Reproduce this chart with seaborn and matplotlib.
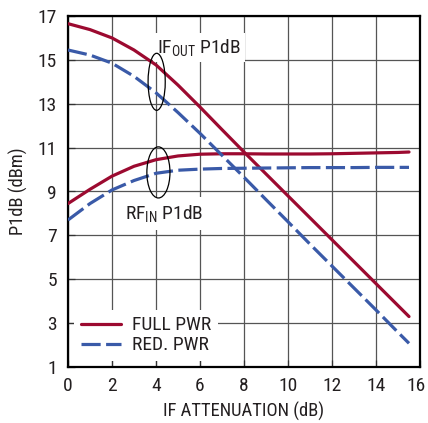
import matplotlib
matplotlib.use("Agg")
import matplotlib.pyplot as plt
import matplotlib.transforms as mtransforms
from matplotlib import font_manager
from matplotlib.font_manager import FontProperties
from matplotlib.patches import Ellipse
import seaborn as sns
import pandas as pd

atten = [0, 1, 2, 3, 4, 5, 6, 7, 8, 9, 10, 11, 12, 13, 14, 15, 15.5]
ifout_full = [16.65, 16.38, 16.0, 15.45, 14.77, 13.85, 12.85, 11.82, 10.8, 9.8, 8.8, 7.8, 6.8, 5.8, 4.8, 3.8, 3.3]
ifout_red = [15.45, 15.22, 14.85, 14.25, 13.5, 12.6, 11.65, 10.65, 9.65, 8.63, 7.62, 6.6, 5.6, 4.6, 3.6, 2.58, 2.08]
rfin_full = [8.45, 9.1, 9.7, 10.15, 10.45, 10.62, 10.7, 10.72, 10.72, 10.71, 10.71, 10.71, 10.72, 10.74, 10.76, 10.78, 10.8]
rfin_red = [7.7, 8.45, 9.07, 9.5, 9.83, 9.97, 10.02, 10.05, 10.06, 10.07, 10.08, 10.09, 10.09, 10.09, 10.1, 10.1, 10.1]
series_names = ["FULL PWR", "RED. PWR"]
x_ticks = [0, 2, 4, 6, 8, 10, 12, 14, 16]
y_ticks = [1, 3, 5, 7, 9, 11, 13, 15, 17]

# pick a condensed sans font if one is installed
names = {f.name for f in font_manager.fontManager.ttflist}
chosen_family, chosen_stretch = None, "normal"
for fam in ["Liberation Sans Narrow", "Roboto Condensed", "DejaVu Sans Condensed",
            "Noto Sans", "Open Sans", "Roboto", "DejaVu Sans"]:
    if fam not in names:
        continue
    path = font_manager.findfont(FontProperties(family=fam, stretch="condensed"),
                                 fallback_to_default=False)
    low = path.lower()
    if "condensed" in low or "narrow" in low:
        chosen_family, chosen_stretch = fam, "condensed"
        break
if chosen_family is None:
    chosen_family = "Liberation Sans" if "Liberation Sans" in names else "DejaVu Sans"

sns.set_theme(style="white")
plt.rcParams["font.family"] = [chosen_family, "DejaVu Sans"]
plt.rcParams["font.stretch"] = chosen_stretch
plt.rcParams["mathtext.fontset"] = "custom"
plt.rcParams["mathtext.rm"] = chosen_family
plt.rcParams["mathtext.it"] = chosen_family

rows = []
for curve, (full, red) in {"IFOUT": (ifout_full, ifout_red), "RFIN": (rfin_full, rfin_red)}.items():
    for name, vals in zip(series_names, (full, red)):
        for xv, yv in zip(atten, vals):
            rows.append({"x": xv, "y": yv, "power": name, "curve": curve})
df = pd.DataFrame(rows)

red_c = "#9c0a30"
blue_c = "#3a5aa8"
txt_c = "#231f20"

fig = plt.figure(figsize=(4.28, 4.23), dpi=100)
ax = fig.add_axes([68/428, 56/423, 352/428, 351/423])

sns.lineplot(data=df, x="x", y="y", hue="power", style="power", units="curve",
             estimator=None, palette={"FULL PWR": red_c, "RED. PWR": blue_c},
             dashes={"FULL PWR": "", "RED. PWR": (6, 1.7)}, linewidth=2.3,
             ax=ax, legend=True, zorder=3)

ax.set_xlim(0, 16)
ax.set_ylim(1, 17)
ax.set_xticks(x_ticks)
ax.set_yticks(y_ticks)
ax.grid(True, color="#555555", linewidth=0.9)
ax.set_axisbelow(True)
for s in ax.spines.values():
    s.set_color("black")
    s.set_linewidth(1.6)
ax.tick_params(axis="both", direction="in", length=5, width=0.9, color="#333333",
               labelsize=14, labelcolor=txt_c, left=True, bottom=True)
ax.tick_params(axis="x", pad=7)
ax.tick_params(axis="y", pad=8)
ax.set_xlabel("IF ATTENUATION (dB)", fontsize=13.3, color=txt_c, labelpad=5)
ax.set_ylabel("P1dB (dBm)", fontsize=13.3, color=txt_c, labelpad=7)

# nudge the last x tick label so it stays inside the canvas
last = ax.get_xticklabels()[-1]
last.set_transform(last.get_transform() +
                   mtransforms.ScaledTranslation(-3 / 72, 0, fig.dpi_scale_trans))

handles, labels = ax.get_legend_handles_labels()
leg = ax.legend(handles, labels, loc="lower left", bbox_to_anchor=(0.0, 0.0),
                frameon=True, facecolor="white", edgecolor="none", framealpha=1,
                fancybox=False, fontsize=14, handlelength=2.05, handletextpad=0.6,
                labelspacing=0.1, borderpad=0.35, borderaxespad=0.3)
for t in leg.get_texts():
    t.set_color(txt_c)
leg.set_zorder(5)

ax.text(4.05, 15.55, r"IF$_{\mathrm{OUT}}$ P1dB", fontsize=14, color=txt_c,
        ha="left", va="center", zorder=2.5,
        bbox=dict(facecolor="white", edgecolor="none", pad=3))
ax.text(2.6, 8.0, r"RF$_{\mathrm{IN}}$ P1dB", fontsize=14, color=txt_c,
        ha="left", va="center", zorder=2.5,
        bbox=dict(facecolor="white", edgecolor="none", pad=4))

ax.add_patch(Ellipse((4.03, 14.0), 0.78, 2.6, fill=False, edgecolor="black",
                     linewidth=0.9, zorder=4))
ax.add_patch(Ellipse((4.11, 9.87), 1.05, 2.33, fill=False, edgecolor="black",
                     linewidth=0.9, zorder=4))

fig.savefig("out.png", dpi=100)
